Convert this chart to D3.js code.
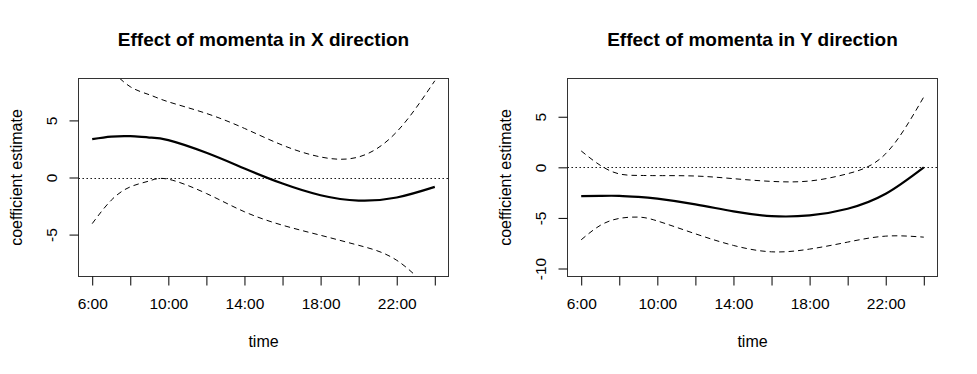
<!DOCTYPE html>
<html>
<head>
<meta charset="utf-8">
<script src="https://cdn.jsdelivr.net/npm/d3@7"></script>
<style>
  body { margin: 0; background: #fff; }
  svg { display: block; font-family: "Liberation Sans", Arial, sans-serif; }
  .title { font-weight: bold; font-size: 19px; }
  .lab { font-size: 16px; }
  .tick text { font-size: 15.5px; font-family: "Liberation Sans", Arial, sans-serif; fill: #000; }
  .tick line { stroke: #000; }
</style>
</head>
<body>
<div id="chart"></div>
<script>
var hours = [6, 7, 8, 9, 10, 12, 14, 16, 18, 20, 22, 24];

// X direction panel
var xFit   = [3.36, 3.58, 3.62, 3.5, 3.27, 2.16, 0.79, -0.53, -1.55, -2.02, -1.75, -0.82];
var xUpper = [11.0, 9.4, 7.95, 7.25, 6.63, 5.61, 4.3, 2.83, 1.8, 1.8, 4.0, 8.47];
var xLower = [-4.04, -1.99, -0.82, -0.3, -0.15, -1.4, -3.0, -4.18, -5.06, -5.94, -7.25, -10.3];

// Y direction panel
var yFit   = [-2.84, -2.82, -2.82, -2.92, -3.1, -3.66, -4.36, -4.82, -4.75, -4.09, -2.61, 0.0];
var yUpper = [1.62, 0.2, -0.65, -0.8, -0.82, -0.86, -1.12, -1.39, -1.35, -0.63, 1.35, 6.96];
var yLower = [-7.16, -5.74, -5.05, -4.92, -5.3, -6.57, -7.72, -8.35, -8.08, -7.39, -6.8, -6.9];

var xTicks = [6, 8, 10, 12, 14, 16, 18, 20, 22, 24];
var xTickLabels = ["6:00", "", "10:00", "", "14:00", "", "18:00", "", "22:00", ""];

var width = 977;
var height = 374;

var svg = d3.select("#chart").append("svg")
  .attr("width", width)
  .attr("height", height);

var panels = [
  {id: "px", title: "Effect of momenta in X direction", left: 78.5,
   fit: xFit, upper: xUpper, lower: xLower, ydomain: [-8.67, 8.67], yticks: [-5, 0, 5]},
  {id: "py", title: "Effect of momenta in Y direction", left: 567.5,
   fit: yFit, upper: yUpper, lower: yLower, ydomain: [-10.79, 8.78], yticks: [-10, -5, 0, 5]}
];

var boxW = 370;
var plotTop = 78.5, plotBottom = 276.5;

panels.forEach(function(p) {
  var xScale = d3.scaleLinear()
    .domain([5.28, 24.72])
    .range([p.left, p.left + boxW]);
  var yScale = d3.scaleLinear()
    .domain(p.ydomain)
    .range([plotBottom, plotTop]);

  svg.append("clipPath").attr("id", "clip-" + p.id)
    .append("rect")
    .attr("x", p.left).attr("y", plotTop)
    .attr("width", boxW).attr("height", plotBottom - plotTop);

  var g = svg.append("g").attr("clip-path", "url(#clip-" + p.id + ")");

  var line = d3.line()
    .x((d, i) => xScale(hours[i]))
    .y(d => yScale(d))
    .curve(d3.curveNatural);

  // zero reference line
  var y0 = Math.round(yScale(0)) + 0.5;
  g.append("line")
    .attr("x1", p.left).attr("x2", p.left + boxW)
    .attr("y1", y0).attr("y2", y0)
    .attr("stroke", "#000")
    .attr("stroke-width", 1)
    .attr("stroke-dasharray", "1.4,2.6");

  [p.upper, p.lower].forEach(function(s) {
    g.append("path")
      .attr("d", line(s))
      .attr("fill", "none")
      .attr("stroke", "#000")
      .attr("stroke-width", 1)
      .attr("stroke-dasharray", "5.5,4");
  });

  g.append("path")
    .attr("d", line(p.fit))
    .attr("fill", "none")
    .attr("stroke", "#000")
    .attr("stroke-width", 2.2);

  // box
  svg.append("rect")
    .attr("x", p.left).attr("y", plotTop)
    .attr("width", boxW).attr("height", plotBottom - plotTop)
    .attr("fill", "none")
    .attr("stroke", "#333")
    .attr("stroke-width", 1);

  /* Axes */
  var xAxis = d3.axisBottom(xScale)
    .tickValues(xTicks)
    .tickSize(9)
    .tickPadding(12)
    .tickFormat((d, i) => xTickLabels[i]);

  svg.append("g")
    .attr("class", "x axis")
    .attr("transform", `translate(0, ${plotBottom})`)
    .call(xAxis)
    .call(a => a.select(".domain").remove());

  var yAxis = d3.axisLeft(yScale)
    .tickValues(p.yticks)
    .tickSize(9)
    .tickFormat(d3.format("d"));

  svg.append("g")
    .attr("class", "y axis")
    .attr("transform", `translate(${p.left}, 0)`)
    .call(yAxis)
    .call(a => a.select(".domain").remove())
    .selectAll(".tick text")
    .attr("x", 0).attr("dy", 0)
    .attr("text-anchor", "middle")
    .attr("transform", "translate(-22,0) rotate(-90)")
    .text(d => d < 0 ? "-" + Math.abs(d) : d);

  // titles and labels
  var cx = p.left + boxW / 2;
  svg.append("text")
    .attr("class", "title")
    .attr("x", cx).attr("y", 46)
    .attr("text-anchor", "middle")
    .text(p.title);

  svg.append("text")
    .attr("class", "lab")
    .attr("x", cx).attr("y", 347)
    .attr("text-anchor", "middle")
    .text("time");

  svg.append("text")
    .attr("class", "lab")
    .attr("text-anchor", "middle")
    .attr("transform", `translate(${p.left - 57}, ${(plotTop + plotBottom) / 2}) rotate(-90)`)
    .text("coefficient estimate");
});
</script>
</body>
</html>
